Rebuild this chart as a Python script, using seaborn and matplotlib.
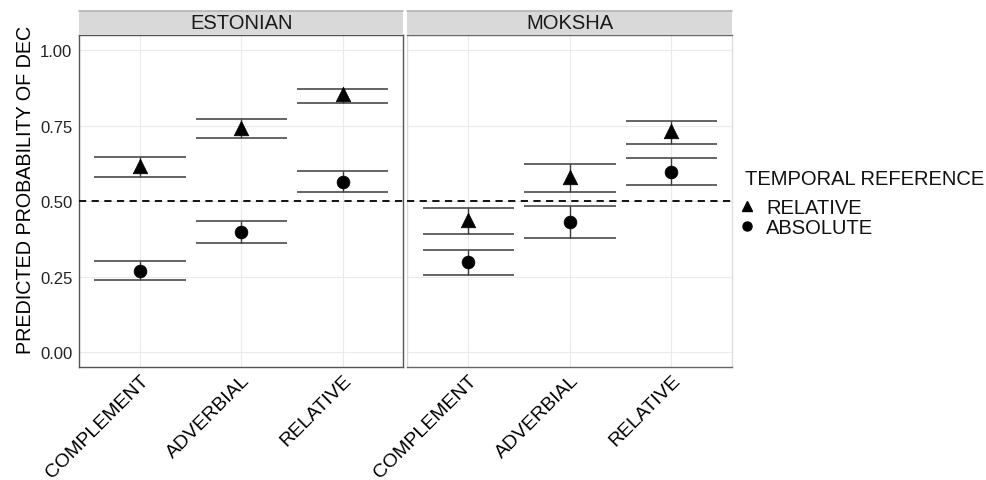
import matplotlib
matplotlib.use("Agg")
import matplotlib.pyplot as plt
from matplotlib.lines import Line2D
from matplotlib.patches import Rectangle
import seaborn as sns
import pandas as pd

sns.set_theme(style="white")
plt.rcParams['font.family'] = ['Liberation Sans', 'DejaVu Sans']

languages = ["ESTONIAN", "MOKSHA"]
clause_types = ["COMPLEMENT", "ADVERBIAL", "RELATIVE"]
references = ["RELATIVE", "ABSOLUTE"]

# ESTONIAN
est_rel_fit = [0.615, 0.743, 0.854]
est_rel_lo = [0.581, 0.708, 0.824]
est_rel_hi = [0.647, 0.772, 0.872]
est_abs_fit = [0.270, 0.397, 0.564]
est_abs_lo = [0.239, 0.361, 0.530]
est_abs_hi = [0.301, 0.435, 0.600]
# MOKSHA
mok_rel_fit = [0.436, 0.580, 0.731]
mok_rel_lo = [0.391, 0.530, 0.689]
mok_rel_hi = [0.476, 0.623, 0.766]
mok_abs_fit = [0.298, 0.430, 0.598]
mok_abs_lo = [0.257, 0.378, 0.553]
mok_abs_hi = [0.339, 0.484, 0.643]

rows = []
for lang, series in [("ESTONIAN", [("RELATIVE", est_rel_fit, est_rel_lo, est_rel_hi),
                                   ("ABSOLUTE", est_abs_fit, est_abs_lo, est_abs_hi)]),
                     ("MOKSHA", [("RELATIVE", mok_rel_fit, mok_rel_lo, mok_rel_hi),
                                 ("ABSOLUTE", mok_abs_fit, mok_abs_lo, mok_abs_hi)])]:
    for ref, fit, lo, hi in series:
        for i, ct in enumerate(clause_types):
            rows.append(dict(lang=lang, ref=ref, clause=ct, xi=i, fit=fit[i], lo=lo[i], hi=hi[i]))
df = pd.DataFrame(rows)

W, H = 987, 481
fig = plt.figure(figsize=(W / 100, H / 100), dpi=100)
panels = [(79.3, 403.3), (407.3, 732.3)]
top_px, bot_px = 36.0, 368.3
axes = []
for (l, r) in panels:
    ax = fig.add_axes([l / W, 1 - bot_px / H, (r - l) / W, (bot_px - top_px) / H])
    axes.append(ax)

markers = {"RELATIVE": "^", "ABSOLUTE": "o"}
sizes = {"RELATIVE": 110, "ABSOLUTE": 85}
ebcol = "#3a3a3a"
for k, (ax, lang) in enumerate(zip(axes, languages)):
    sub = df[df.lang == lang]
    ax.set_xlim(-0.6, 2.6)
    ax.set_ylim(-0.05, 1.05)
    ax.set_yticks([0, 0.25, 0.5, 0.75, 1.0])
    ax.set_xticks(range(len(clause_types)))
    ax.grid(True, color="#ebebeb", linewidth=0.8)
    ax.set_axisbelow(True)
    # error bars
    ax.vlines(sub.xi, sub.lo, sub.hi, color=ebcol, linewidth=1.0, zorder=2)
    ax.hlines(sub.lo, sub.xi - 0.45, sub.xi + 0.45, color=ebcol, linewidth=1.1, zorder=2)
    ax.hlines(sub.hi, sub.xi - 0.45, sub.xi + 0.45, color=ebcol, linewidth=1.1, zorder=2)
    for ref in references:
        s = sub[sub.ref == ref]
        sns.scatterplot(data=s, x="xi", y="fit", marker=markers[ref], s=sizes[ref],
                        color="black", edgecolor="black", linewidth=0.5, ax=ax, zorder=3, legend=False)
    ax.axhline(0.5, color="black", linestyle=(0, (4, 3)), linewidth=1.3, zorder=4, clip_on=False)
    ax.set_xlim(-0.6, 2.6)
    ax.set_xlabel("")
    ax.set_ylabel("")
    ax.set_xticklabels(clause_types, rotation=45, ha="right", rotation_mode="anchor",
                       fontsize=14, color="black")
    ax.tick_params(axis="x", length=3, color="#333333", pad=0)
    ax.tick_params(axis="y", length=3, color="#333333", labelsize=12, labelcolor="#222222", pad=2)
    if k == 1:
        ax.tick_params(axis="y", left=False, labelleft=False)
        for sp in ["left", "right"]:
            ax.spines[sp].set_color("#dddddd")
        for sp in ["top", "bottom"]:
            ax.spines[sp].set_color("#666666")
    else:
        for sp in ax.spines.values():
            sp.set_color("#555555")
    for sp in ax.spines.values():
        sp.set_linewidth(1.0)
    # strip
    strip_h = 24 / (bot_px - top_px)
    ax.add_patch(Rectangle((0, 1), 1, strip_h, transform=ax.transAxes, facecolor="#d9d9d9",
                           edgecolor="none", clip_on=False, zorder=5))
    ax.plot([0, 1], [1 + strip_h, 1 + strip_h], transform=ax.transAxes, color="#b3b3b3",
            linewidth=1.2, clip_on=False, zorder=6)
    ax.text(0.5, 1 + strip_h / 2, lang, transform=ax.transAxes, ha="center", va="center",
            fontsize=14.5, color="#1a1a1a", zorder=7)

axes[0].set_ylabel("PREDICTED PROBABILITY OF DEC", fontsize=14.2, color="black")
axes[0].yaxis.set_label_coords((35 - 79.3) / 324, (368.3 - 190) / 332.3)

fig.text(745 / W, 1 - 179.5 / H, "TEMPORAL REFERENCE", ha="left", va="center",
         fontsize=14.5, color="#111111")
handles = [Line2D([], [], marker="^", color="black", linestyle="none", markersize=7),
           Line2D([], [], marker="o", color="black", linestyle="none", markersize=6.5)]
leg = fig.legend(handles, references, loc="center left",
                 bbox_to_anchor=(737 / W, 1 - 218.5 / H), frameon=False, fontsize=14.5,
                 handletextpad=0.45, labelspacing=0.05, handlelength=1.0,
                 borderpad=0, borderaxespad=0)
for t in leg.get_texts():
    t.set_color("#111111")

fig.savefig("out.png", dpi=100)
